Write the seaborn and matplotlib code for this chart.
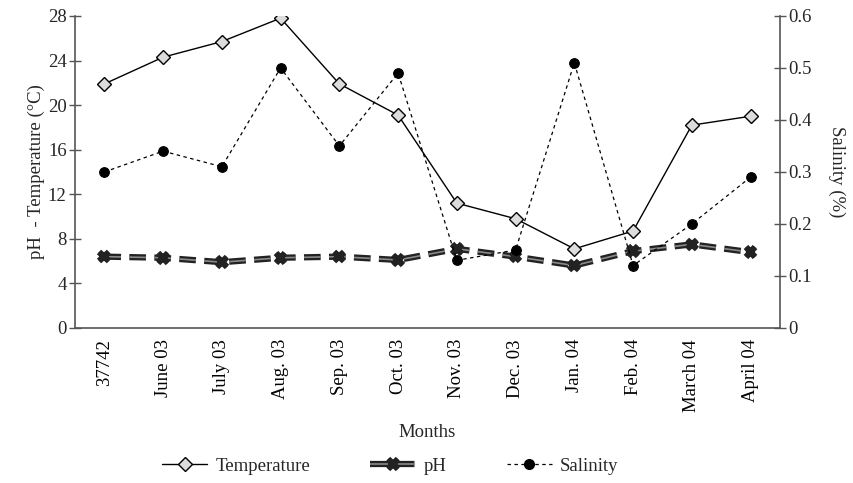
import numpy as np
import pandas as pd
import matplotlib
matplotlib.use("Agg")
import matplotlib.pyplot as plt
import matplotlib.patheffects as pe
from matplotlib.lines import Line2D
import seaborn as sns

months = ["37742", "June 03", "July 03", "Aug. 03", "Sep. 03", "Oct. 03",
          "Nov. 03", "Dec. 03", "Jan. 04", "Feb. 04", "March 04", "April 04"]
temperature = [21.9, 24.3, 25.7, 27.8, 21.9, 19.1, 11.2, 9.8, 7.1, 8.7, 18.2, 19.0]
ph = [6.4, 6.3, 5.9, 6.3, 6.4, 6.1, 7.1, 6.4, 5.6, 6.9, 7.5, 6.8]
salinity = [0.30, 0.34, 0.31, 0.50, 0.35, 0.49, 0.13, 0.15, 0.51, 0.12, 0.20, 0.29]

sns.set_theme(style="white")
plt.rcParams['font.family'] = ['Liberation Serif', 'DejaVu Serif']
plt.rcParams['lines.scale_dashes'] = False

df = pd.DataFrame({"pos": np.arange(len(months)), "Temperature": temperature,
                   "pH": ph, "Salinity": salinity})

fig = plt.figure(figsize=(8.54, 4.83), dpi=100)
ax = fig.add_axes([0.0878, 0.321, 0.8255, 0.646])
ax2 = ax.twinx()

axis_col = "#555555"
fs = 13.5

ph_dash = (0, (12, 6))
sal_dash = (0, (2.5, 2.5))
ph_fx = [pe.Stroke(linewidth=4.5, foreground="#222222"), pe.Normal()]

sns.lineplot(data=df, x="pos", y="Temperature", ax=ax, color="black", lw=1.0,
             marker="D", markersize=7.5, markerfacecolor="#dcdcdc",
             markeredgecolor="black", markeredgewidth=1.0, sort=False)
sns.lineplot(data=df, x="pos", y="pH", ax=ax, color="#8a8a8a", lw=1.2,
             linestyle=ph_dash, marker="x", markersize=7,
             markeredgecolor="#222222", markeredgewidth=1.3, sort=False,
             path_effects=ph_fx)

sns.lineplot(data=df, x="pos", y="Salinity", ax=ax2, color="black", lw=0.9,
             linestyle=sal_dash, marker="o", markersize=7,
             markerfacecolor="black", markeredgecolor="black", sort=False)

ax.set_xlim(-0.5, len(months) - 0.5)
ax.set_ylim(0, 28)
ax2.set_ylim(0, 0.6)
ax.set_yticks(np.arange(0, 29, 4))
ax2.set_yticks(np.arange(0, 0.61, 0.1))
ax2.set_yticklabels(["0"] + [f"{v:.1f}" for v in np.arange(0.1, 0.61, 0.1)])

ax.set_xticks(np.arange(len(months)))
ax.set_xticklabels(months, rotation=90, fontsize=fs)
ax.set_xticks(np.arange(-0.5, len(months) + 0.5, 1), minor=True)
ax.tick_params(axis="x", which="major", length=0, pad=8, colors="black")
ax.tick_params(axis="x", which="minor", length=8, width=1.0, direction="inout", color=axis_col)
ax.tick_params(axis="y", length=8, width=1.0, direction="inout", color=axis_col, labelsize=fs, pad=2)
ax2.tick_params(axis="y", length=8, width=1.0, direction="inout", color=axis_col, labelsize=fs, pad=2)
ax.tick_params(axis="x", labelsize=fs)

for a in (ax, ax2):
    a.spines["top"].set_visible(False)
    for s in ("left", "right", "bottom"):
        a.spines[s].set_color(axis_col)
        a.spines[s].set_linewidth(1.2)
ax.spines["right"].set_visible(False)
ax2.spines["left"].set_visible(False)
ax2.spines["bottom"].set_visible(False)
ax.grid(False)
ax2.grid(False)

ax.set_xlabel("Months", fontsize=fs, labelpad=9)
ax.set_ylabel("pH  - Temperature (°C)", fontsize=fs, labelpad=2)
ax2.set_ylabel("Salinity (%)", fontsize=fs, rotation=-90, labelpad=24)

h_temp = Line2D([], [], color="black", lw=1.0, marker="D", markersize=7.5,
                markerfacecolor="#dcdcdc", markeredgecolor="black")
h_ph = Line2D([], [], color="#8a8a8a", lw=1.2, marker="x", markersize=7,
              markeredgecolor="#222222", markeredgewidth=1.3,
              linestyle=(0, (14, 4)), path_effects=ph_fx)
h_sal = Line2D([], [], color="black", lw=0.9, marker="o", markersize=7,
               markerfacecolor="black", linestyle=sal_dash)
fig.legend([h_temp, h_ph, h_sal], ["Temperature", "pH", "Salinity"],
           loc="center", bbox_to_anchor=(0.457, 0.035), ncol=3, frameon=False,
           fontsize=fs, handlelength=2.4, columnspacing=3.2, handletextpad=0.45)

ax.set_zorder(1)
ax2.set_zorder(2)
ax2.patch.set_visible(False)

fig.savefig("out.png", dpi=100)
